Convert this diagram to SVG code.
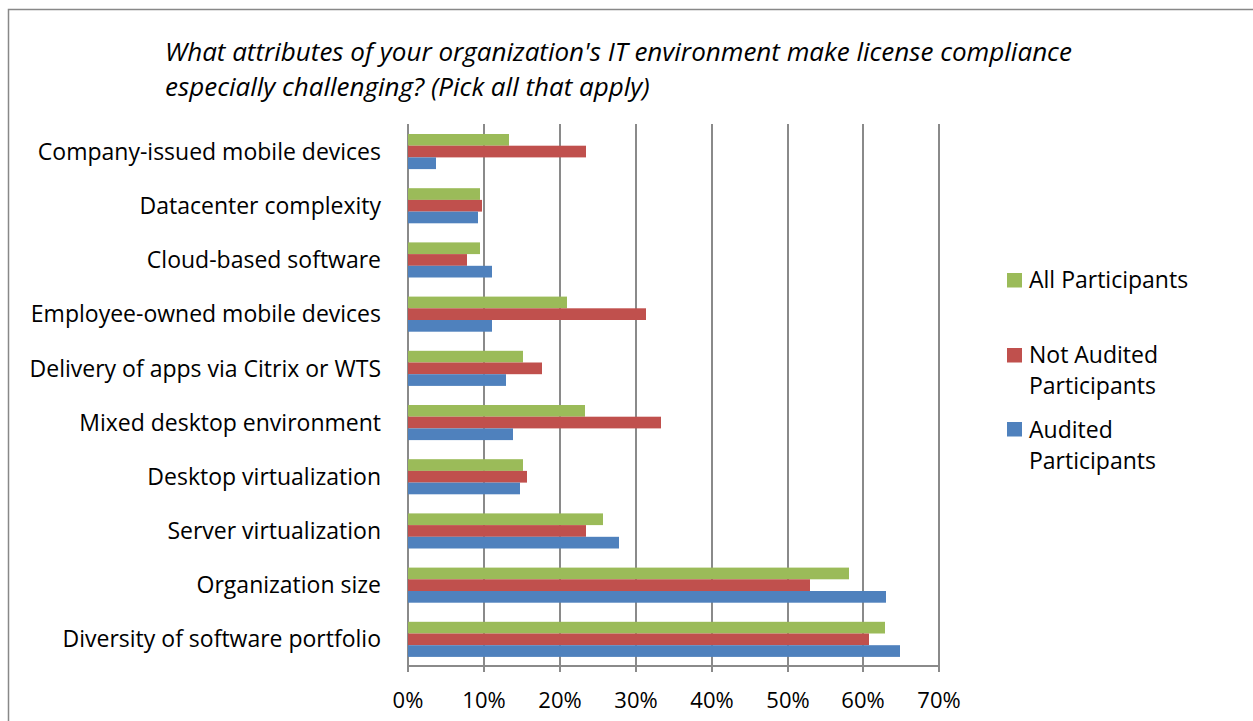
<svg xmlns="http://www.w3.org/2000/svg" width="1253" height="721" viewBox="0 0 1253 721">
<style>
.lbl{font-family:"Open Sans","Liberation Sans",sans-serif;font-size:23px;fill:#000;text-anchor:end}
.ax{font-family:"Open Sans","Liberation Sans",sans-serif;font-size:22px;fill:#000;text-anchor:middle}
.leg{font-family:"Open Sans","Liberation Sans",sans-serif;font-size:23px;fill:#000}
.ttl{font-family:"Open Sans","Liberation Sans",sans-serif;font-size:26px;font-style:italic;fill:#000}
.grid{stroke:#8a8a8a;stroke-width:2}
.g{fill:#9BBB59}.r{fill:#C0504D}.b{fill:#4F81BD}
</style>
<rect x="0" y="0" width="1253" height="721" fill="#fff"/>
<rect x="8.5" y="9.5" width="1300" height="800" fill="none" stroke="#888" stroke-width="1.5"/>
<g id="title">
<text class="ttl" x="165" y="61">What attributes of your organization's IT environment make license compliance</text>
<text class="ttl" x="165" y="96">especially challenging? (Pick all that apply)</text>
</g>
<g id="gridlines">
<line class="grid" x1="408" y1="124" x2="408" y2="672"/>
<line class="grid" x1="484" y1="124" x2="484" y2="672"/>
<line class="grid" x1="560" y1="124" x2="560" y2="672"/>
<line class="grid" x1="636" y1="124" x2="636" y2="672"/>
<line class="grid" x1="712" y1="124" x2="712" y2="672"/>
<line class="grid" x1="788" y1="124" x2="788" y2="672"/>
<line class="grid" x1="863" y1="124" x2="863" y2="672"/>
<line class="grid" x1="939" y1="124" x2="939" y2="672"/>
<line class="grid" x1="408" y1="666" x2="939" y2="666"/>
</g>
<g id="bars">
<rect class="g" x="408" y="134" width="101" height="11.7"/>
<rect class="r" x="408" y="145.7" width="178" height="11.7"/>
<rect class="b" x="408" y="157.4" width="28" height="11.7"/>

<rect class="g" x="408" y="188.2" width="72" height="11.7"/>
<rect class="r" x="408" y="199.9" width="74" height="11.7"/>
<rect class="b" x="408" y="211.6" width="70" height="11.7"/>

<rect class="g" x="408" y="242.4" width="72" height="11.7"/>
<rect class="r" x="408" y="254.1" width="59" height="11.7"/>
<rect class="b" x="408" y="265.8" width="84" height="11.7"/>

<rect class="g" x="408" y="296.6" width="159" height="11.7"/>
<rect class="r" x="408" y="308.3" width="238" height="11.7"/>
<rect class="b" x="408" y="320" width="84" height="11.7"/>

<rect class="g" x="408" y="350.8" width="115" height="11.7"/>
<rect class="r" x="408" y="362.5" width="134" height="11.7"/>
<rect class="b" x="408" y="374.2" width="98" height="11.7"/>

<rect class="g" x="408" y="405" width="177" height="11.7"/>
<rect class="r" x="408" y="416.7" width="253" height="11.7"/>
<rect class="b" x="408" y="428.4" width="105" height="11.7"/>

<rect class="g" x="408" y="459.2" width="115" height="11.7"/>
<rect class="r" x="408" y="470.9" width="119" height="11.7"/>
<rect class="b" x="408" y="482.6" width="112" height="11.7"/>

<rect class="g" x="408" y="513.4" width="195" height="11.7"/>
<rect class="r" x="408" y="525.1" width="178" height="11.7"/>
<rect class="b" x="408" y="536.8" width="211" height="11.7"/>

<rect class="g" x="408" y="567.6" width="441" height="11.7"/>
<rect class="r" x="408" y="579.3" width="402" height="11.7"/>
<rect class="b" x="408" y="591" width="478" height="11.7"/>

<rect class="g" x="408" y="621.8" width="477" height="11.7"/>
<rect class="r" x="408" y="633.5" width="461" height="11.7"/>
<rect class="b" x="408" y="645.2" width="492" height="11.7"/>
</g>
<g id="category-labels">
<text class="lbl" x="381" y="160">Company-issued mobile devices</text>
<text class="lbl" x="381" y="214">Datacenter complexity</text>
<text class="lbl" x="381" y="268">Cloud-based software</text>
<text class="lbl" x="381" y="322">Employee-owned mobile devices</text>
<text class="lbl" x="381" y="377">Delivery of apps via Citrix or WTS</text>
<text class="lbl" x="381" y="431">Mixed desktop environment</text>
<text class="lbl" x="381" y="485">Desktop virtualization</text>
<text class="lbl" x="381" y="539">Server virtualization</text>
<text class="lbl" x="381" y="593">Organization size</text>
<text class="lbl" x="381" y="647">Diversity of software portfolio</text>
</g>
<g id="axis-labels">
<text class="ax" x="408" y="708">0%</text>
<text class="ax" x="484" y="708">10%</text>
<text class="ax" x="560" y="708">20%</text>
<text class="ax" x="636" y="708">30%</text>
<text class="ax" x="712" y="708">40%</text>
<text class="ax" x="788" y="708">50%</text>
<text class="ax" x="863" y="708">60%</text>
<text class="ax" x="939" y="708">70%</text>
</g>
<g id="legend">
<rect class="g" x="1007" y="273" width="15" height="14.5"/>
<text class="leg" x="1029" y="288">All Participants</text>
<rect class="r" x="1007" y="348" width="15" height="14.5"/>
<text class="leg" x="1029" y="363">Not Audited</text>
<text class="leg" x="1029" y="394">Participants</text>
<rect class="b" x="1007" y="422" width="15" height="14.5"/>
<text class="leg" x="1029" y="438">Audited</text>
<text class="leg" x="1029" y="469">Participants</text>
</g>
</svg>
